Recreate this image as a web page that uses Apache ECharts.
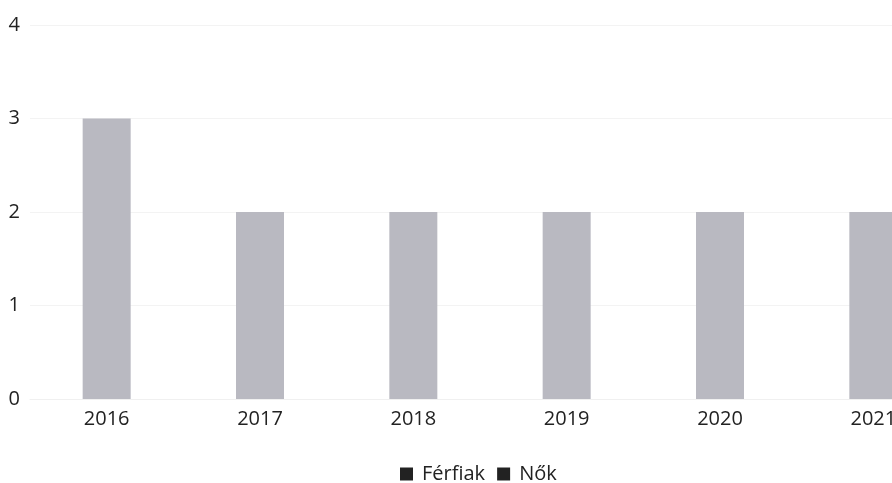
<!DOCTYPE html>
<html><head><meta charset="utf-8">
<script src="https://cdn.jsdelivr.net/npm/echarts@6/dist/echarts.min.js"></script>
<style>html,body{margin:0;padding:0;overflow:hidden;background:#fff;width:892px;height:483px}#c{width:950px;height:483px}</style>
</head><body><div id="c"></div>
<script>
const categories = ['2016','2017','2018','2019','2020','2021'];
const ferfiak = [3,2,2,2,2,2];
const nok = [0,0,0,0,0,0];
const seriesNames = ['Férfiak','Nők'];
const chart = echarts.init(document.getElementById('c'));
const font = "'Open Sans', 'Noto Sans', sans-serif";
chart.setOption({
  animation:false,
  grid:{left:30,right:0,top:25,bottom:84},
  legend:{
    top:464, left:400, itemWidth:13,itemHeight:13,itemGap:12, padding:0,
    icon:'rect',
    textStyle:{fontFamily:font,fontSize:20,color:'#222',padding:[0,0,0,4]},
    data:[{name:seriesNames[0],itemStyle:{color:'#222'}},{name:seriesNames[1],itemStyle:{color:'#222'}}]
  },
  xAxis:{type:'category',data:categories,
    axisLine:{lineStyle:{color:'#f0f0f0'}},axisTick:{show:false},
    axisLabel:{fontFamily:font,fontSize:20,color:'#222',margin:10}},
  yAxis:{type:'value',min:0,max:4,interval:1,
    axisLabel:{fontFamily:font,fontSize:20,color:'#222',margin:10},
    splitLine:{lineStyle:{color:'#f3f3f3'}}},
  series:[
    {name:seriesNames[0],type:'bar',stack:'a',data:ferfiak,barWidth:48,itemStyle:{color:'#b9b9c1'}},
    {name:seriesNames[1],type:'bar',stack:'a',data:nok,barWidth:48,itemStyle:{color:'#b9b9c1'}}
  ]
});
</script></body></html>
